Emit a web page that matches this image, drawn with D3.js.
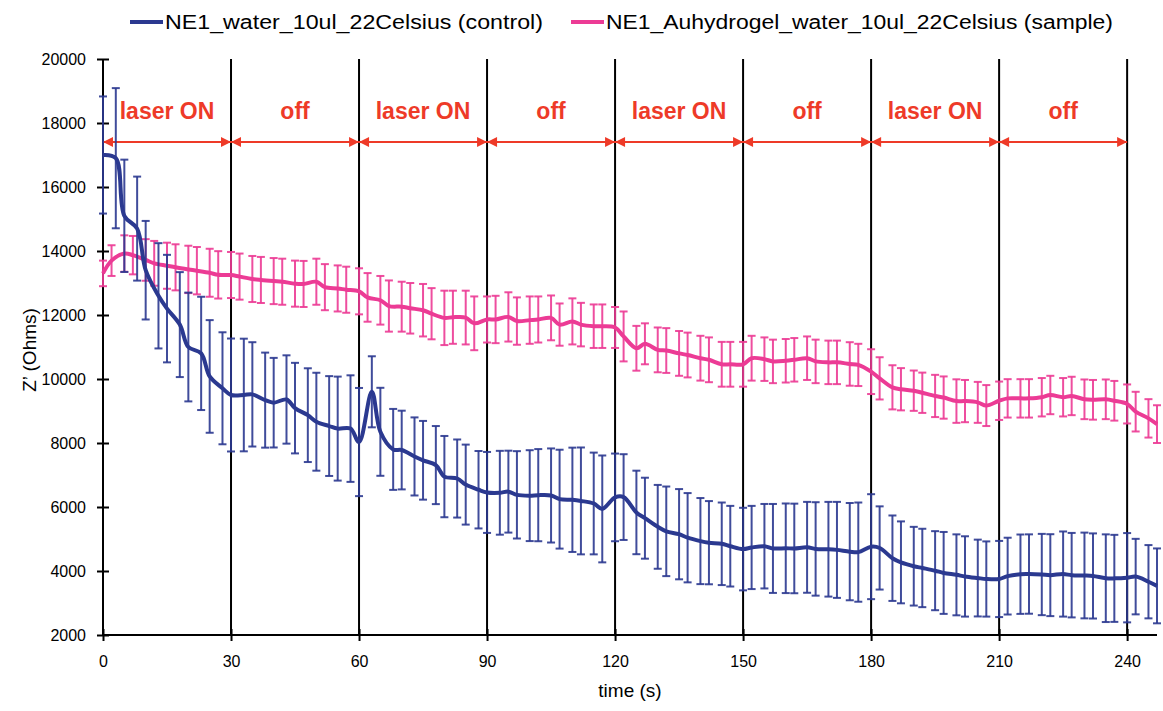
<!DOCTYPE html>
<html>
<head>
<meta charset="utf-8">
<script src="https://cdn.jsdelivr.net/npm/d3@7"></script>
<style>
  body { margin: 0; background: #fff; }
  text { font-family: "Liberation Sans", Arial, sans-serif; }
</style>
</head>
<body>
<svg id="chart" width="1163" height="711"></svg>
<script>
// control series (blue)
const blueTime = [0, 3, 5, 8, 10, 13, 15, 18, 20, 23, 25, 28, 30, 33, 35, 38, 40, 43, 45, 48,
  50, 53, 55, 58, 60, 63, 65, 68, 70, 73, 75, 78, 80, 83, 85, 88, 90, 93, 95, 97,
  100, 102, 105, 107, 110, 112, 115, 117, 120, 122, 125, 127, 130, 132, 135, 137, 140, 142, 145, 147,
  150, 152, 155, 157, 160, 162, 165, 167, 170, 172, 175, 177, 180, 182, 185, 187, 190, 192, 195, 197,
  200, 202, 205, 207, 210, 212, 215, 217, 220, 222, 225, 227, 230, 232, 235, 237, 240, 242, 245, 247];
const blueMean = [17000, 16900, 15100, 14700, 13400, 12600, 12200, 11700, 11000, 10800, 10080, 9710, 9500, 9500, 9520, 9340, 9260, 9360, 9090, 8870,
  8665, 8530, 8450, 8450, 8030, 9600, 8350, 7800, 7780, 7580, 7460, 7310, 6950, 6890, 6700, 6540, 6455, 6445, 6480, 6380,
  6355, 6370, 6360, 6245, 6225, 6190, 6110, 5940, 6300, 6310, 5830, 5650, 5380, 5240, 5150, 5040, 4935, 4885, 4850, 4775,
  4685, 4735, 4775, 4705, 4710, 4705, 4740, 4690, 4680, 4660, 4605, 4590, 4760, 4720, 4400, 4270, 4150, 4095, 4010, 3940,
  3880, 3830, 3780, 3750, 3750, 3840, 3900, 3905, 3890, 3870, 3905, 3870, 3860, 3845, 3775, 3770, 3790, 3825, 3665, 3535];
const blueErr = [1830, 2190, 1755, 1625, 1540, 1645, 1680, 1640, 1700, 1770, 1760, 1750, 1765, 1760, 1630, 1485, 1400, 1380, 1415, 1465,
  1530, 1560, 1625, 1665, 1690, 1110, 1375, 1265, 1230, 1220, 1230, 1220, 1270, 1220, 1250, 1210, 1265, 1310, 1280, 1365,
  1420, 1440, 1470, 1545, 1630, 1670, 1590, 1670, 1370, 1340, 1305, 1265, 1310, 1400, 1410, 1395, 1345, 1300, 1290, 1260,
  1290, 1300, 1320, 1390, 1400, 1400, 1420, 1460, 1480, 1500, 1520, 1550, 1640, 1300, 1335, 1280, 1230, 1225, 1235, 1280,
  1265, 1255, 1200, 1175, 1190, 1200, 1240, 1240, 1270, 1280, 1330, 1320, 1340, 1330, 1370, 1360, 1395, 1180, 1145, 1170];

// sample series (pink)
const pinkTime = [0, 2, 5, 7, 10, 12, 15, 17, 20, 22, 25, 27, 30, 32, 35, 37, 40, 42, 45, 47,
  50, 52, 55, 57, 60, 62, 65, 67, 70, 72, 75, 77, 80, 82, 85, 87, 90, 92, 95, 97,
  100, 102, 105, 107, 110, 112, 115, 117, 120, 122, 125, 127, 130, 132, 135, 137, 140, 142, 145, 147,
  150, 152, 155, 157, 160, 162, 165, 167, 170, 172, 175, 177, 180, 182, 185, 187, 190, 192, 195, 197,
  200, 202, 205, 207, 210, 212, 215, 217, 220, 222, 225, 227, 230, 232, 235, 237, 240, 242, 245, 247];
const pinkMean = [13300, 13700, 13920, 13870, 13720, 13615, 13540, 13490, 13425, 13385, 13320, 13255, 13250, 13200, 13125, 13095, 13060, 13040, 12980, 12970,
  13040, 12870, 12830, 12790, 12740, 12550, 12460, 12280, 12260, 12210, 12150, 12040, 11910, 11930, 11920, 11740, 11860, 11860, 11940, 11810,
  11840, 11860, 11910, 11700, 11800, 11700, 11650, 11650, 11610, 11330, 10960, 11100, 10910, 10890, 10800, 10750, 10650, 10600, 10460, 10460,
  10460, 10650, 10620, 10550, 10570, 10600, 10650, 10550, 10520, 10520, 10470, 10440, 10230, 10020, 9740, 9680, 9635, 9570, 9470, 9420,
  9310, 9310, 9270, 9170, 9320, 9395, 9395, 9395, 9430, 9500, 9430, 9470, 9365, 9350, 9365, 9320, 9220, 8980, 8770, 8590];
const pinkErr = [400, 480, 570, 600, 650, 700, 720, 720, 740, 740, 750, 740, 720, 720, 720, 720, 720, 720, 720, 720,
  720, 720, 720, 720, 720, 760, 760, 800, 780, 790, 820, 800, 850, 830, 840, 840, 720, 740, 770, 740,
  740, 720, 700, 660, 720, 680, 680, 680, 640, 780, 700, 640, 700, 700, 700, 700, 700, 700, 700, 700,
  700, 700, 680, 680, 680, 680, 680, 680, 680, 680, 680, 660, 700, 660, 690, 660, 630, 630, 660, 660,
  680, 660, 640, 640, 600, 600, 600, 600, 600, 600, 600, 600, 620, 620, 620, 620, 610, 620, 600, 590];

const xTicks = [0, 30, 60, 90, 120, 150, 180, 210, 240];
const yTicks = [2000, 4000, 6000, 8000, 10000, 12000, 14000, 16000, 18000, 20000];
const phaseBounds = [0, 30, 60, 90, 120, 150, 180, 210, 240];
const phaseLabels = ['laser ON', 'off', 'laser ON', 'off', 'laser ON', 'off', 'laser ON', 'off'];

const seriesNames = ['NE1_water_10ul_22Celsius (control)', 'NE1_Auhydrogel_water_10ul_22Celsius (sample)'];

const BLUE = '#2b3990';
const PINK = '#ec3b95';
const RED = '#ee3a28';

const svg = d3.select('#chart');
const x = d3.scaleLinear().domain([0, 247]).range([103, 1157]);
const y = d3.scaleLinear().domain([2000, 20000]).range([635, 59]);

// phase separators
svg.append('g')
  .selectAll('line')
  .data(phaseBounds.slice(1))
  .join('line')
  .attr('x1', d => x(d)).attr('x2', d => x(d))
  .attr('y1', y(20000)).attr('y2', y(2000))
  .attr('stroke', '#000').attr('stroke-width', 2);

// axes
const yAxis = d3.axisLeft(y).tickValues(yTicks).tickSize(6).tickPadding(11).tickFormat(d3.format('d'));
const gy = svg.append('g').attr('transform', `translate(${x(0)},0)`).call(yAxis);
const xAxis = d3.axisBottom(x).tickValues(xTicks).tickSize(6).tickPadding(15).tickFormat(d3.format('d'));
const gx = svg.append('g').attr('transform', `translate(0,${y(2000)})`).call(xAxis);
gy.select('.domain').attr('d', `M0,${y(20000)}V${y(2000)}`).attr('stroke-width', 2);
gx.select('.domain').attr('d', `M${x(0)},0H${x(247)}`).attr('stroke-width', 2);
[gx, gy].forEach(g => {
  g.selectAll('.tick line').attr('stroke-width', 2);
  g.selectAll('.tick text').attr('font-size', 16).attr('fill', '#000')
    .style('font-family', '"Liberation Sans", Arial, sans-serif');
});
gy.selectAll('.tick line').attr('x1', 6);
gx.selectAll('.tick line').attr('y1', -6);

svg.append('text')
  .attr('x', 630).attr('y', 697)
  .attr('text-anchor', 'middle').attr('font-size', 19)
  .text('time (s)');
svg.append('text')
  .attr('transform', 'translate(36,350) rotate(-90)')
  .attr('text-anchor', 'middle').attr('font-size', 19)
  .text('Z’ (Ohms)');

// red arrows between separators
const arrowY = 142;
const arrows = svg.append('g');
arrows.append('line')
  .attr('x1', x(0)).attr('x2', x(240))
  .attr('y1', arrowY).attr('y2', arrowY)
  .attr('stroke', RED).attr('stroke-width', 2);
const head = (px, dir) => `M${px},${arrowY}L${px - dir * 10},${arrowY - 5}L${px - dir * 10},${arrowY + 5}Z`;
phaseBounds.forEach((b, i) => {
  if (i > 0) arrows.append('path').attr('d', head(x(b), 1)).attr('fill', RED);
  if (i < phaseBounds.length - 1) arrows.append('path').attr('d', head(x(b), -1)).attr('fill', RED);
});
svg.append('g')
  .selectAll('text')
  .data(phaseLabels)
  .join('text')
  .attr('x', (d, i) => (x(phaseBounds[i]) + x(phaseBounds[i + 1])) / 2)
  .attr('y', 119)
  .attr('text-anchor', 'middle')
  .attr('font-size', 23).attr('font-weight', 'bold')
  .attr('fill', RED)
  .text(d => d);

function drawSeries(times, means, errs, color) {
  const pts = times.map((t, i) => ({ t, m: means[i], e: errs[i] }));
  const g = svg.append('g');
  const bars = g.selectAll('g.bar').data(pts).join('g').attr('class', 'bar')
    .attr('stroke', color).attr('stroke-width', 2).attr('stroke-opacity', 0.9);
  bars.append('line')
    .attr('x1', d => x(d.t)).attr('x2', d => x(d.t))
    .attr('y1', d => y(d.m + d.e)).attr('y2', d => y(d.m - d.e));
  bars.append('line')
    .attr('x1', d => x(d.t) - 4).attr('x2', d => x(d.t) + 4)
    .attr('y1', d => y(d.m + d.e)).attr('y2', d => y(d.m + d.e));
  bars.append('line')
    .attr('x1', d => x(d.t) - 4).attr('x2', d => x(d.t) + 4)
    .attr('y1', d => y(d.m - d.e)).attr('y2', d => y(d.m - d.e));
  const line = d3.line().x(d => x(d.t)).y(d => y(d.m)).curve(d3.curveCatmullRom.alpha(0.5));
  g.append('path').datum(pts)
    .attr('d', line)
    .attr('fill', 'none').attr('stroke', color).attr('stroke-width', 4)
    .attr('stroke-linejoin', 'round');
}

drawSeries(pinkTime, pinkMean, pinkErr, PINK);
drawSeries(blueTime, blueMean, blueErr, BLUE);

// legend
const legend = [
  { name: seriesNames[0], color: BLUE, x0: 130, len: 378 },
  { name: seriesNames[1], color: PINK, x0: 571, len: 507 },
];
legend.forEach(l => {
  svg.append('line')
    .attr('x1', l.x0).attr('x2', l.x0 + 33)
    .attr('y1', 22).attr('y2', 22)
    .attr('stroke', l.color).attr('stroke-width', 4);
  svg.append('text')
    .attr('x', l.x0 + 35).attr('y', 29)
    .attr('font-size', 20)
    .attr('textLength', l.len).attr('lengthAdjust', 'spacingAndGlyphs')
    .text(l.name);
});
</script>
</body>
</html>
